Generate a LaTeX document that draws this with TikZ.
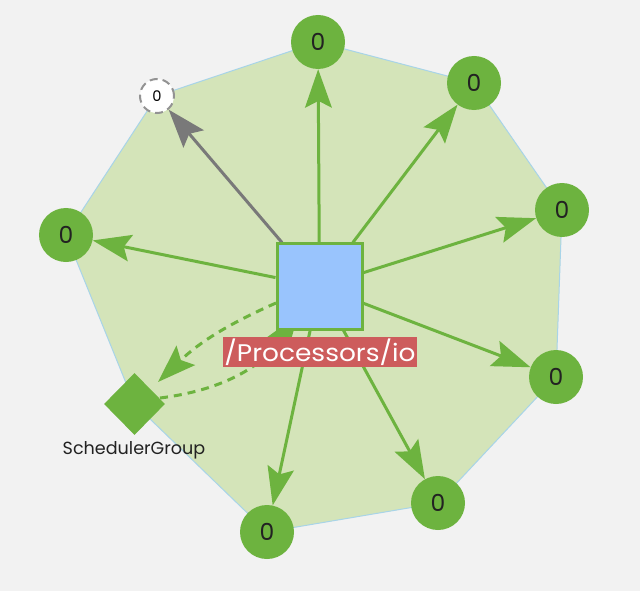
\documentclass[tikz,border=0pt]{standalone}
\usepackage{fontspec}
\setmainfont{Poppins}
\usetikzlibrary{arrows.meta,shapes.geometric}
\pgfdeclarelayer{bottom}
\pgfdeclarelayer{background}
\pgfsetlayers{bottom,background,main}
\definecolor{bg}{HTML}{F2F2F2}
\definecolor{hullfill}{HTML}{D4E4B9}
\definecolor{hullline}{HTML}{A8D4E8}
\definecolor{sgreen}{HTML}{6DB33F}
\definecolor{sqblue}{HTML}{99C4FD}
\definecolor{lblred}{HTML}{CD5C5C}
\definecolor{txt}{HTML}{222222}
\tikzset{
  px/.style={x=0.03cm,y=-0.03cm},
  inst/.style={circle,fill=sgreen,draw=none,minimum size=1.62cm,inner sep=0pt,
    font=\fontsize{20}{20}\selectfont,text=txt},
  ghost/.style={circle,fill=white,draw=gray!85,line width=0.06cm,dash pattern=on 0.24cm off 0.15cm,
    minimum size=1.02cm,inner sep=0pt,font=\fontsize{12.5}{12.5}\selectfont,text=black},
  proc/.style={rectangle,fill=sqblue,draw=sgreen,line width=0.09cm,minimum size=2.55cm,inner sep=0pt},
  grp/.style={diamond,fill=sgreen,draw=none,minimum width=1.83cm,minimum height=1.86cm,inner sep=0pt},
  lbl/.style={fill=lblred,text=white,inner xsep=0.05cm,inner ysep=0.06cm,font=\fontsize{20.5}{20.5}\selectfont},
  grplbl/.style={text=txt,font=\fontsize{15}{15}\selectfont},
  headtip/.style={-{Stealth[length=1.15cm,width=0.8cm,inset=0.2cm]}},
  link/.style={draw=sgreen,line width=0.09cm,headtip},
  glink/.style={draw=gray!95!black,line width=0.09cm,headtip},
  dlink/.style={draw=sgreen,line width=0.09cm,dash pattern=on 0.24cm off 0.18cm,headtip},
}
\begin{document}
\begin{tikzpicture}[px]
\useasboundingbox (0,0) rectangle (640,591);
\node[proc] (sq) at (319.5,286.5) {};
\node[inst] (c1) at (318,42) {0};
\node[inst] (c2) at (474,83) {0};
\node[inst] (c3) at (562,210) {0};
\node[inst] (c4) at (556,377) {0};
\node[inst] (c5) at (438,503) {0};
\node[inst] (c6) at (267,532) {0};
\node[inst] (c7) at (66,235) {0};
\node[ghost] (g) at (157,96) {0};
\node[grp] (d) at (134.5,404) {};
\node[grplbl] (dl) at (134,450) {SchedulerGroup};
\node[lbl] (pl) at (320,352) {\scalebox{1.1}[1]{/Processors/io}};
\coordinate (inA) at (276,303);
\coordinate (inB) at (298,315);
\coordinate (dA) at (158,382);
\coordinate (dB) at (160,398);
\begin{pgfonlayer}{bottom}
\fill[bg] (0,0) rectangle (640,591);
\end{pgfonlayer}
\begin{pgfonlayer}{background}
\draw[fill=hullfill,draw=hullline,line width=0.03cm] (g.center) -- (c1.center) -- (c2.center) -- (c3.center) -- (c4.center) -- (c5.center) -- (c6.center) -- (d.center) -- (c7.center) -- cycle;
\draw[link] (sq) -- (c1);
\draw[link] (sq) -- (c2);
\draw[link] (sq) -- (c3);
\draw[link] (sq) -- (c4);
\draw[link] (sq) -- (c5);
\draw[link] (sq) -- (c6);
\draw[link] (sq) -- (c7);
\draw[glink] (sq) -- (g);
\draw[dlink] (inA) to[bend right=10] (dA);
\draw[dlink] (dB) to[bend right=24] (inB);
\end{pgfonlayer}
\end{tikzpicture}
\end{document}
